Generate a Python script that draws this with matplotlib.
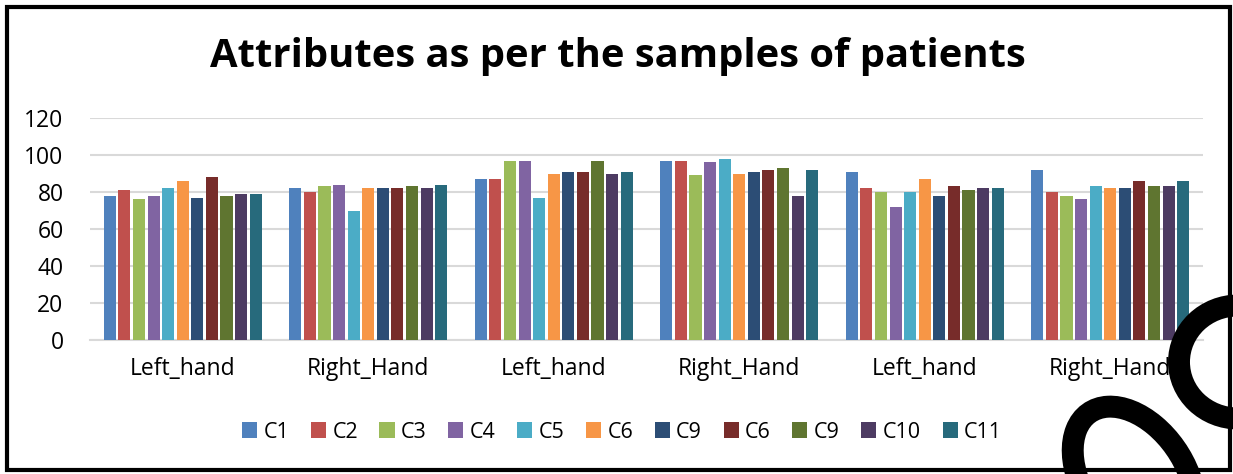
import matplotlib
matplotlib.use("Agg")
import matplotlib.pyplot as plt
from matplotlib.patches import Patch, Ellipse, Rectangle
import numpy as np

categories = ["Left_hand", "Right_Hand", "Left_hand", "Right_Hand", "Left_hand", "Right_Hand"]
series_names = ["C1", "C2", "C3", "C4", "C5", "C6", "C9", "C6", "C9", "C10", "C11"]
C1 = [78, 82, 87, 97, 91, 92]
C2 = [81, 80, 87, 97, 82, 80]
C3 = [76, 83, 97, 89, 80, 78]
C4 = [78, 84, 97, 96, 72, 76]
C5 = [82, 70, 77, 98, 80, 83]
C6 = [86, 82, 90, 90, 87, 82]
C9 = [77, 82, 91, 91, 78, 82]
C6b = [88, 82, 91, 92, 83, 86]
C9b = [78, 83, 97, 93, 81, 83]
C10 = [79, 82, 90, 78, 82, 83]
C11 = [79, 84, 91, 92, 82, 86]
series_values = [C1, C2, C3, C4, C5, C6, C9, C6b, C9b, C10, C11]
colors = ["#4F81BD", "#C0504D", "#9BBB59", "#8064A2", "#4BACC6", "#F79646",
          "#2C4D75", "#772C2A", "#5F7530", "#4D3B62", "#276A7C"]
y_ticks = [0, 20, 40, 60, 80, 100, 120]

plt.rcParams['font.family'] = ['Open Sans', 'DejaVu Sans']

W, H = 1233, 474
fig = plt.figure(figsize=(W / 100, H / 100), dpi=100)
fig.patch.set_facecolor("white")

ax = fig.add_axes([90 / W, (H - 340) / H, 1113 / W, (340 - 118) / H])
x = np.arange(len(categories))
n = len(series_values)
slot = 0.0786
bw = 0.065
for i, (vals, c) in enumerate(zip(series_values, colors)):
    ax.bar(x + (i - (n - 1) / 2) * slot, vals, width=bw, color=c, zorder=3)

ax.set_xlim(-0.5, len(categories) - 0.5)
ax.set_ylim(0, 120)
ax.set_yticks(y_ticks)
ax.set_yticklabels([str(t) for t in y_ticks])
ax.set_xticks(x)
ax.set_xticklabels(categories)
ax.tick_params(axis='y', length=0, pad=19, labelsize=16.5)
ax.tick_params(axis='x', length=0, pad=12, labelsize=16.5)
ax.grid(axis='y', color="#D9D9D9", linewidth=1.5, zorder=0)
for s in ["top", "right", "left"]:
    ax.spines[s].set_visible(False)
ax.spines["bottom"].set_color("#D9D9D9")
ax.spines["bottom"].set_linewidth(1.5)

fig.text(618 / W, 1 - 57 / H, "Attributes as per the samples of patients",
         ha="center", va="center", fontsize=28.8, fontweight="bold")

handles = [Patch(facecolor=c, edgecolor="none") for c in colors]
fig.legend(handles, series_names, loc="center", bbox_to_anchor=(622 / W, 1 - 432 / H),
           ncol=n, frameon=False, fontsize=15.5, handlelength=0.7, handleheight=0.7,
           handletextpad=0.3, columnspacing=1.0)

# outer border
fig.add_artist(Rectangle((7 / W, 1 - 470 / H), (1230 - 7) / W, (470 - 7) / H,
                         transform=fig.transFigure, fill=False, edgecolor="black",
                         linewidth=3))

# decorative strokes at bottom right
fig.add_artist(Ellipse((1238 / W, 1 - 362 / H), 118 / W, 113 / H, transform=fig.transFigure,
                       fill=False, edgecolor="black", linewidth=15.8, clip_on=False))
fig.add_artist(Ellipse((1134 / W, 1 - 478 / H), 112 / W, 144 / H, angle=8,
                       transform=fig.transFigure, fill=False, edgecolor="black",
                       linewidth=15.8, clip_on=False))

fig.savefig("out.png", dpi=100, facecolor="white")
